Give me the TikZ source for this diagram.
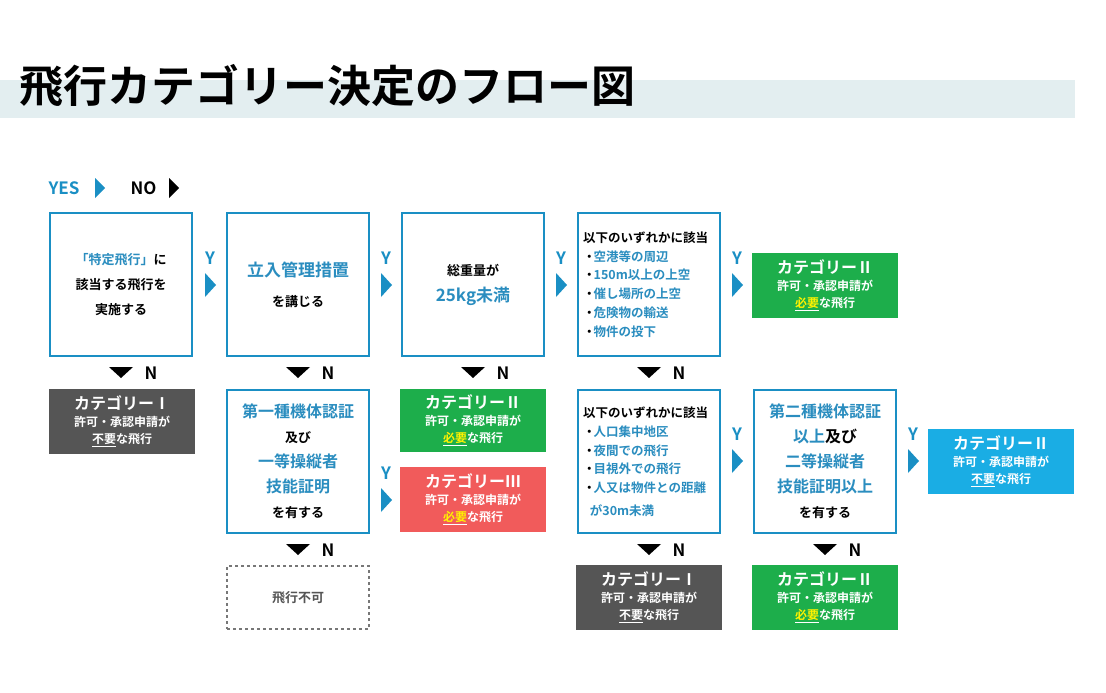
\documentclass[tikz,border=0pt]{standalone}
\usepackage{fontspec}
\setmainfont{Noto Sans CJK JP}[BoldFont={Noto Sans CJK JP Bold}]
\usetikzlibrary{positioning}
\definecolor{bl}{HTML}{1A8FC4}
\definecolor{tb}{HTML}{2A8DBF}
\definecolor{gr}{HTML}{1DAE4B}
\definecolor{gy}{HTML}{555555}
\definecolor{rd}{HTML}{F15B5B}
\definecolor{cy}{HTML}{1AADE4}
\definecolor{band}{HTML}{E3EEF0}
\definecolor{yl}{HTML}{FFF200}
\newcommand{\B}[1]{\textcolor{tb}{#1}}
\newcommand{\fs}[1]{\fontsize{#1}{\baselineskip}\selectfont}
\newcommand{\bt}{\kern-0.3em・\kern-0.15em}
\begin{document}
\begin{tikzpicture}[x=1pt,y=-1pt,
 qbox/.style={draw=bl,line width=2.5pt,minimum width=142pt,minimum height=143pt,align=center,inner sep=0pt,fill=white},
 cat/.style={minimum width=146pt,minimum height=65pt,align=center,text=white,inner sep=0pt,font=\bfseries\fontsize{12}{17}\selectfont},
 lh/.style={font=\bfseries\fontsize{13}{#1}\selectfont},
 lst/.style={align=left,text width=132pt,font=\bfseries\fontsize{12.5}{22.5}\selectfont},
 lab/.style={font=\bfseries\fontsize{17}{17}\selectfont}]
\useasboundingbox (0,0) rectangle (1106,693);
\fill[band] (0,80) rectangle (1075,118);
\node[anchor=west,font=\bfseries\fontsize{44}{44}\selectfont] (title) at (16,86) {飛行カテゴリー決定のフロー図};
% legend
\node[anchor=west,lab,text=bl] (yes) at (45,188) {YES};
\fill[bl] (95,178) -- (105,188) -- (95,198) -- cycle;
\node[anchor=west,lab] (no) at (127,188) {NO};
\fill[black] (169,178) -- (179,188) -- (169,198) -- cycle;
% row1
\node[qbox,lh=25] (b1) at (121,284.5) {\B{「特定飛行」}に\\該当する飛行を\\実施する};
\node[qbox,lh=30] (b2) at (298,284.5) {\fs{17}\B{立入管理措置}\\\fs{13}を講じる};
\node[qbox,lh=26] (b3) at (473,284.5) {総重量が\\\fs{17}\B{25kg未満}};
\node[qbox,lst] (b4) at (649,284.5) {以下のいずれかに該当\\\bt\B{空港等の周辺}\\\bt\B{150m以上の上空}\\\bt\B{催し場所の上空}\\\bt\B{危険物の輸送}\\\bt\B{物件の投下}};
\node[cat,fill=gr] (c1) at (825,285) {\fs{16}カテゴリーⅡ\\\fs{12}許可・承認申請が\\\underline{\textcolor{yl}{必要}}な飛行};
% row2
\node[cat,fill=gy] (c2) at (122,421.5) {\fs{16}カテゴリーⅠ\\\fs{12}許可・承認申請が\\\underline{不要}な飛行};
\node[qbox,lh=25] (b5) at (298,461.5) {\fs{16}\B{第一種機体認証}\\\fs{13}及び\\\fs{16}\B{一等操縦者}\\\fs{16}\B{技能証明}\\\fs{13}を有する};
\node[cat,fill=gr,minimum height=63pt] (c3) at (473,420.5) {\fs{16}カテゴリーⅡ\\\fs{12}許可・承認申請が\\\underline{\textcolor{yl}{必要}}な飛行};
\node[cat,fill=rd] (c4) at (473,499.5) {\fs{16}カテゴリーⅢ\\\fs{12}許可・承認申請が\\\underline{\textcolor{yl}{必要}}な飛行};
\node[qbox,lst] (b6) at (649,461.5) {以下のいずれかに該当\\\bt\B{人口集中地区}\\\bt\B{夜間での飛行}\\\bt\B{目視外での飛行}\\\bt\B{人又は物件との距離}\\\hspace*{0.55em}\B{が30m未満}};
\node[qbox,lh=25] (b7) at (825,461.5) {\fs{16}\B{第二種機体認証}\\\fs{16}\B{以上}及び\\\fs{16}\B{二等操縦者}\\\fs{16}\B{技能証明以上}\\\fs{13}を有する};
\node[cat,fill=cy] (c5) at (1001,461) {\fs{16}カテゴリーⅡ\\\fs{12}許可・承認申請が\\\underline{不要}な飛行};
% row3
\node[draw=gy!80,dashed,line width=1.5pt,minimum width=142pt,minimum height=63pt,font=\bfseries\fontsize{13}{16}\selectfont,text=gy] (nf) at (298,597.5) {飛行不可};
\node[cat,fill=gy] (c6) at (649,597.5) {\fs{16}カテゴリーⅠ\\\fs{12}許可・承認申請が\\\underline{不要}な飛行};
\node[cat,fill=gr] (c7) at (825,597.5) {\fs{16}カテゴリーⅡ\\\fs{12}許可・承認申請が\\\underline{\textcolor{yl}{必要}}な飛行};
% Y arrows
\foreach \x/\y in {210/285,386/285,561/285,737/285,386/500,737/461,913/461}{
 \fill[bl] (\x-5,\y-12) -- (\x+6,\y) -- (\x-5,\y+12) -- cycle;
 \node[lab,text=bl] at (\x,\y-27) {Y};
}
% N arrows
\foreach \x/\y in {121/373,298/373,473/373,649/373,298/550,649/550,825/550}{
 \fill[black] (\x-12,\y-6) -- (\x+12,\y-6) -- (\x,\y+5) -- cycle;
 \node[lab] at (\x+30,\y) {N};
}
\end{tikzpicture}
\end{document}
